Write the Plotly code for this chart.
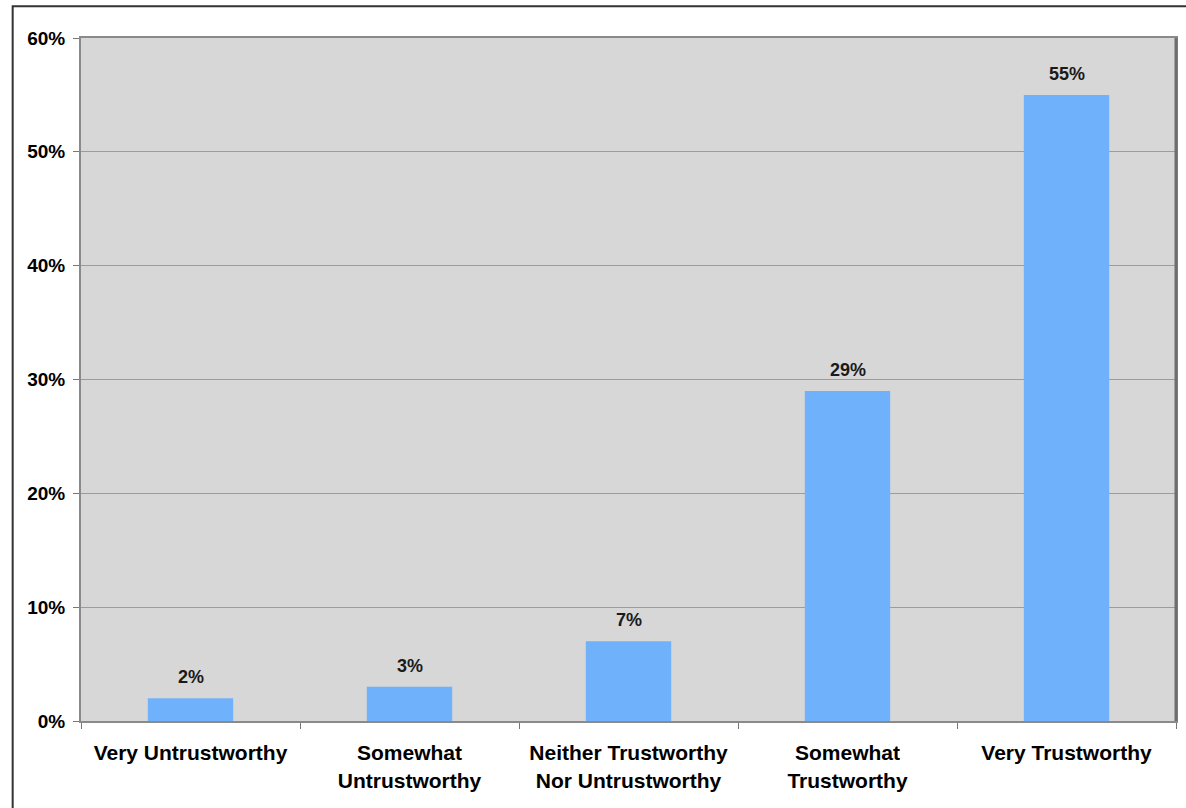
import plotly.graph_objects as go

categories = [
    "Very Untrustworthy",
    "Somewhat<br>Untrustworthy",
    "Neither Trustworthy<br>Nor Untrustworthy",
    "Somewhat<br>Trustworthy",
    "Very Trustworthy",
]
shares = [2, 3, 7, 29, 55]
y_ticks = [0, 10, 20, 30, 40, 50, 60]
y_tick_labels = [f"{v}%" for v in y_ticks]

font_family = "Liberation Sans, Arial, sans-serif"

fig = go.Figure(
    go.Bar(
        x=categories,
        y=shares,
        marker=dict(color="#70b1fb", line=dict(width=0)),
        cliponaxis=False,
    )
)

# Value labels above each bar
for cat, val in zip(categories, shares):
    fig.add_annotation(
        x=cat, y=val, text=f"{val}%",
        showarrow=False, yanchor="bottom", yshift=9,
        font=dict(family=font_family, size=18, color="#1a1a1a", weight="bold"),
    )

fig.update_layout(
    width=1186,
    height=808,
    margin=dict(l=81, r=8, t=38, b=87),
    paper_bgcolor="white",
    plot_bgcolor="#d7d7d7",
    bargap=0.61,
    showlegend=False,
    font=dict(family=font_family, color="black"),
)

fig.update_yaxes(
    range=[0, 60],
    tickvals=y_ticks,
    ticktext=y_tick_labels,
    tickfont=dict(family=font_family, size=19, color="black", weight="bold"),
    ticks="outside",
    ticklen=6,
    tickcolor="#777",
    showgrid=True,
    gridcolor="#9c9c9c",
    gridwidth=1,
    showline=True,
    linecolor="#8a8a8a",
    linewidth=2,
    mirror=True,
    zeroline=False,
    ticklabelstandoff=4,
)

fig.update_xaxes(
    tickfont=dict(family=font_family, size=21, color="black", weight="bold"),
    ticks="outside",
    tickson="boundaries",
    ticklen=6,
    tickcolor="#777",
    showline=True,
    linecolor="#8a8a8a",
    linewidth=2,
    mirror=True,
    showgrid=False,
    ticklabelstandoff=12,
)

# Slightly darker right edge of the plotting area
fig.add_shape(
    type="line", xref="paper", yref="paper",
    x0=1, x1=1, y0=0, y1=1,
    line=dict(color="#6e6e6e", width=3),
    layer="above",
)

# Frame around the chart (its right and bottom edges run past the page)
fig.add_shape(
    type="rect",
    xref="paper", yref="paper",
    x0=-0.0624, x1=1.05, y0=-0.2, y1=1.0466,
    line=dict(color="#333333", width=2),
    fillcolor="rgba(0,0,0,0)",
    layer="above",
)

fig.write_html("out.html")
